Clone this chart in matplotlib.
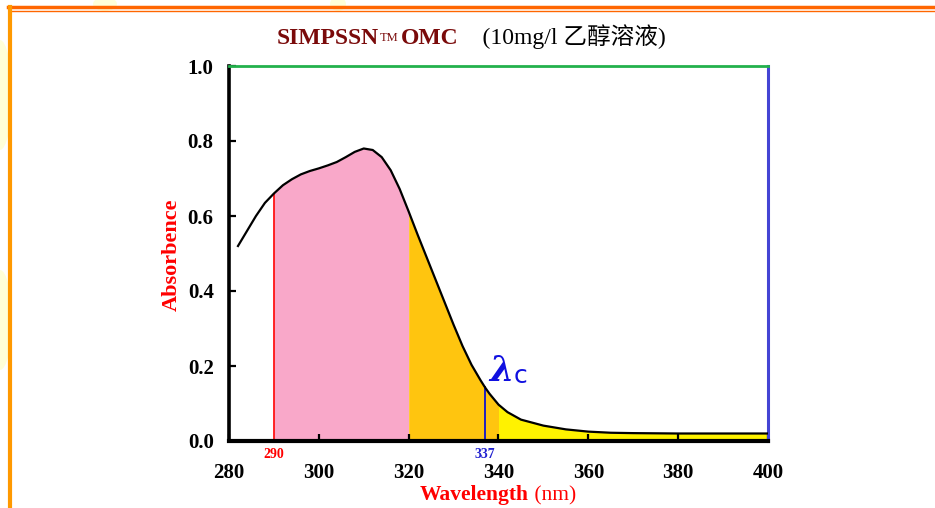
import matplotlib
matplotlib.use("Agg")
import matplotlib.pyplot as plt
import numpy as np
from matplotlib.patches import Ellipse
from matplotlib.lines import Line2D

# ---- data ----
wavelength = [282, 284, 286, 288, 290, 292, 294, 296, 298, 300, 302, 304, 306, 308,
              310, 312, 314, 316, 318, 320, 322, 324, 326, 328, 330, 332, 334, 336,
              337, 338, 340, 342, 345, 350, 355, 360, 365, 370, 380, 390, 400]
absorbance = [0.52, 0.56, 0.60, 0.635, 0.66, 0.682, 0.698, 0.711, 0.72, 0.727, 0.735,
              0.744, 0.757, 0.771, 0.78, 0.776, 0.757, 0.722, 0.672, 0.612, 0.55, 0.49,
              0.43, 0.37, 0.31, 0.253, 0.203, 0.162, 0.143, 0.126, 0.097, 0.077, 0.057,
              0.041, 0.031, 0.025, 0.022, 0.021, 0.02, 0.02, 0.02]
band_edges = [290, 320, 340, 400]
band_colors = ["#F9A8C9", "#FFC50F", "#FFF200"]
x_ticks = [280, 300, 320, 340, 360, 380, 400]
y_ticks = [0.0, 0.2, 0.4, 0.6, 0.8, 1.0]
uvb_edge = 290
critical_wl = 337

w = np.array(wavelength, dtype=float)
a = np.array(absorbance, dtype=float)

SERIF = ["Liberation Serif", "Noto Sans CJK SC", "DejaVu Serif"]

fig = plt.figure(figsize=(9.35, 5.08), dpi=100)
fig.patch.set_facecolor("white")

# background decorations (slide frame)
bg = fig.add_axes([0, 0, 1, 1], zorder=-5)
bg.set_xlim(0, 935)
bg.set_ylim(508, 0)
bg.axis("off")
for (cx, cy, ew, eh) in [(0, 95, 24, 110), (0, 320, 24, 100), (105, 4, 24, 14), (338, 4, 16, 14)]:
    bg.add_patch(Ellipse((cx, cy), ew, eh, color="#FFFFD8", lw=0))
bg.add_line(Line2D([8, 935], [7, 7], color="#FF6600", lw=2.5))
bg.add_line(Line2D([11, 935], [10.5, 10.5], color="#FF6600", lw=1.0))
bg.add_line(Line2D([9.5, 9.5], [7, 508], color="#FF9900", lw=3))

ax = fig.add_axes([229 / 935, 1 - 441 / 508, (768 - 229) / 935, (441 - 66) / 508])
ax.set_xlim(280, 400)
ax.set_ylim(0, 1.0)

# filled bands under the curve
for lo, hi, col in zip(band_edges[:-1], band_edges[1:], band_colors):
    m = (w >= lo) & (w <= hi)
    ax.fill_between(w[m], 0, a[m], color=col, lw=0, zorder=1)

ax.plot(w, a, color="black", lw=1.6, zorder=3, solid_joinstyle="round")

a290 = a[wavelength.index(uvb_edge)]
a337 = a[wavelength.index(critical_wl)]
ax.plot([uvb_edge, uvb_edge], [0, a290], color="#FF0000", lw=1.2, zorder=2)
ax.plot([critical_wl, critical_wl], [0, a337], color="#2020C0", lw=1.4, zorder=2)

# spines
for s, c, lw in [("left", "black", 2.6), ("bottom", "black", 3.0),
                 ("top", "#22B14C", 2.0), ("right", "#4444D4", 2.2)]:
    ax.spines[s].set_color(c)
    ax.spines[s].set_linewidth(lw)

ax.set_xticks(x_ticks)
ax.set_yticks(y_ticks)
ax.set_xticklabels([str(v) for v in x_ticks])
ax.set_yticklabels([f"{v:.1f}" for v in y_ticks])
ax.tick_params(axis="both", direction="in", length=5, width=1.6, color="black",
               labelsize=15, top=False, right=False)
ax.tick_params(axis="x", pad=16)
ax.tick_params(axis="y", pad=11)
for lab in ax.get_xticklabels() + ax.get_yticklabels():
    lab.set_fontfamily(SERIF)
    lab.set_fontweight("bold")

# markers under axis
ax.text(uvb_edge, -0.018, str(uvb_edge), color="#FF0000", fontsize=10, fontweight="bold",
        family=SERIF, ha="center", va="top")
ax.text(critical_wl, -0.018, str(critical_wl), color="#2020D0", fontsize=10, fontweight="bold",
        family=SERIF, ha="center", va="top")

# lambda_c label
t_l = ax.text(338.0, 0.16, "λ", color="#1010E0", fontsize=25, family=["DejaVu Serif"],
              style="italic", fontweight="bold", ha="left", va="baseline", zorder=4)
ax.annotate("c", xy=(1, 0), xycoords=t_l, xytext=(0, 0), textcoords="offset points",
            color="#1010E0", fontsize=18, family=["DejaVu Sans"], ha="left", va="bottom")

# y label
fig.text(172 / 935, 1 - 255 / 508, "Absorbence", rotation=90, color="#FF0000",
         fontsize=16, fontweight="bold", family=SERIF, ha="center", va="center")

# x label
t_x = fig.text(420 / 935, 1 - 500 / 508, "Wavelength", color="#FF0000", fontsize=15.5,
               fontweight="bold", family=SERIF, ha="left", va="baseline")
ax.annotate(" (nm)", xy=(1, 0), xycoords=t_x, xytext=(0, 0), textcoords="offset points",
            color="#FF0000", fontsize=15.5, family=SERIF, ha="left", va="bottom",
            annotation_clip=False)

# title
t1 = fig.text(277 / 935, 1 - 44 / 508, "SIMPSSN", color="#7A0A0A", fontsize=17,
              fontweight="bold", family=SERIF, ha="left", va="baseline")
t2 = ax.annotate("TM", xy=(1, 1), xycoords=t1, xytext=(0.5, -3), textcoords="offset points",
                 color="#7A0A0A", fontsize=9, family=SERIF, ha="left", va="top",
                 annotation_clip=False)
t3 = ax.annotate("OMC", xy=(1, 0), xycoords=t1, xytext=(16, 0), textcoords="offset points",
                 color="#7A0A0A", fontsize=17, fontweight="bold", family=SERIF,
                 ha="left", va="bottom", annotation_clip=False)
ax.annotate("    (10mg/l 乙醇溶液)", xy=(1, 0), xycoords=t3, xytext=(0, 0),
            textcoords="offset points", color="black", fontsize=17, family=SERIF,
            ha="left", va="bottom", annotation_clip=False)

fig.savefig("out.png", dpi=100, facecolor="white")
